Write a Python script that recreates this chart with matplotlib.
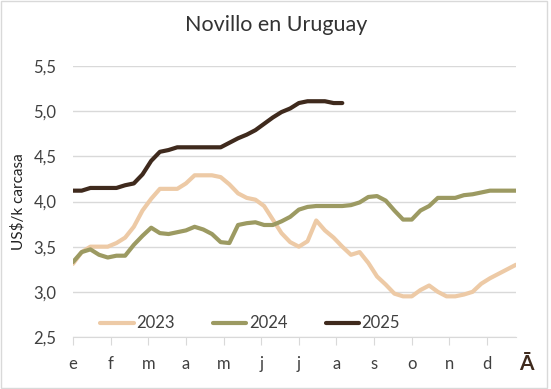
import numpy as np
import matplotlib.pyplot as plt
from matplotlib.ticker import FuncFormatter
from matplotlib.patches import Rectangle

plt.rcParams['font.family'] = ['Lato', 'DejaVu Sans']

meses = ["e", "f", "m", "a", "m", "j", "j", "a", "s", "o", "n", "d"]

# precios semanales, US$/k carcasa
y2023 = [3.31, 3.44, 3.50, 3.50, 3.50, 3.54, 3.60, 3.72, 3.90, 4.03,
         4.14, 4.14, 4.14, 4.20, 4.29, 4.29, 4.29, 4.27, 4.19, 4.09,
         4.04, 4.02, 3.95, 3.80, 3.65, 3.55, 3.50, 3.56, 3.79, 3.68,
         3.60, 3.50, 3.41, 3.44, 3.32, 3.17, 3.08, 2.98, 2.95, 2.95,
         3.02, 3.07, 3.00, 2.95, 2.95, 2.97, 3.00, 3.09, 3.15, 3.20,
         3.25, 3.30]
y2024 = [3.33, 3.44, 3.47, 3.41, 3.38, 3.40, 3.40, 3.52, 3.62, 3.71,
         3.65, 3.64, 3.66, 3.68, 3.72, 3.69, 3.64, 3.55, 3.54, 3.74,
         3.76, 3.77, 3.74, 3.74, 3.78, 3.83, 3.91, 3.94, 3.95, 3.95,
         3.95, 3.95, 3.96, 3.99, 4.05, 4.06, 4.01, 3.90, 3.80, 3.80,
         3.90, 3.95, 4.04, 4.04, 4.04, 4.07, 4.08, 4.10, 4.12, 4.12,
         4.12, 4.12]
y2025 = [4.12, 4.12, 4.15, 4.15, 4.15, 4.15, 4.18, 4.20, 4.30, 4.45,
         4.55, 4.57, 4.60, 4.60, 4.60, 4.60, 4.60, 4.60, 4.65, 4.70,
         4.74, 4.79, 4.86, 4.93, 4.99, 5.03, 5.09, 5.11, 5.11, 5.11,
         5.09, 5.09]

fig = plt.figure(figsize=(5.51, 3.89), dpi=100)
ax = fig.add_axes([0.1325, 0.1337, 0.804, 0.6966])

estilo = dict(lw=3, solid_capstyle="round", solid_joinstyle="round")
ax.plot(np.arange(len(y2023)), y2023, color="#EDCAA6", label="2023", **estilo)
ax.plot(np.arange(len(y2024)), y2024, color="#9C9A62", label="2024", **estilo)
ax.plot(np.arange(len(y2025)), y2025, color="#3F2A1D", label="2025", **estilo)

ax.set_xlim(0, 51)
ax.set_ylim(2.5, 5.5)
ax.set_yticks(np.arange(2.5, 5.51, 0.5))
ax.yaxis.set_major_formatter(FuncFormatter(lambda v, p: f"{v:.1f}".replace(".", ",")))
ax.set_xticks(np.arange(12) * 52 / 12)
ax.set_xticklabels(meses)

ax.grid(axis="y", color="#D9D9D9", lw=1)
ax.set_axisbelow(True)
for s in ["top", "right", "left"]:
    ax.spines[s].set_visible(False)
ax.spines["bottom"].set_color("#D9D9D9")
ax.tick_params(axis="x", colors="#D9D9D9", length=6, labelcolor="#404040",
               labelsize=12, pad=8)
ax.tick_params(axis="y", length=0, labelcolor="#404040", labelsize=12, pad=12)

ax.set_ylabel("US$/k carcasa", fontsize=11, color="#222222", labelpad=6)
fig.text(0.502, 0.935, "Novillo en Uruguay", ha="center", va="center",
         fontsize=15.5, color="#333333")

ax.legend(loc="lower center", bbox_to_anchor=(0.4, -0.035), ncol=3,
          frameon=False, fontsize=12, handlelength=2.0, handletextpad=0.15,
          columnspacing=2.3, labelcolor="#404040")

fig.text(0.955, 0.065, "Ā", ha="center", va="center", fontsize=15,
         fontweight="bold", color="#3F2A1D")

fig.patches.append(Rectangle((0.002, 0.003), 0.991, 0.994, transform=fig.transFigure,
                             fill=False, edgecolor="#D9D9D9", lw=1))

fig.savefig("out.png", dpi=100)
